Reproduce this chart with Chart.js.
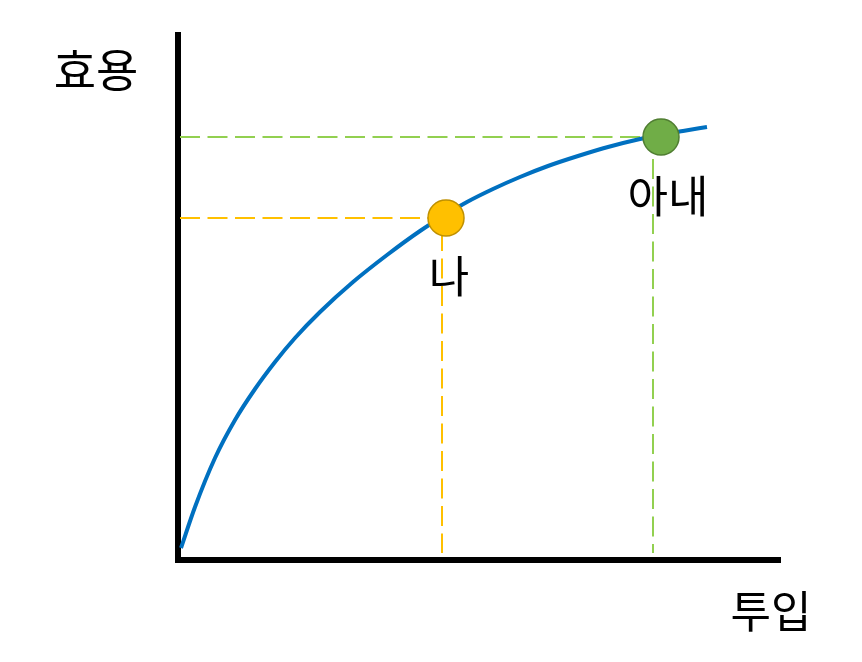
<!DOCTYPE html>
<html>
<head>
<meta charset="utf-8">
<script src="https://cdn.jsdelivr.net/npm/chart.js@4/dist/chart.umd.min.js"></script>
<style>
  html, body { margin: 0; padding: 0; background: #fff; }
  #wrap { width: 862px; height: 662px; }
</style>
</head>
<body>
<div id="wrap"><canvas id="chart" width="862" height="662"></canvas></div>
<script>
// ===== DATA (arbitrary units) =====
const curveX = [3, 17, 37, 57, 77, 97, 117, 142, 175, 209, 242, 267, 289, 315, 342, 370, 400, 430, 462, 482, 505, 529];
const curveY = [12, 53, 102, 140, 171, 198, 222, 248, 278, 305, 329, 345, 358, 371, 383, 394, 404, 413, 421, 425, 429, 433];

const pointNames = ['나', '아내'];
const pointX = [268, 483];
const pointY = [342, 423];
// where the dashed guide lines meet the axes
const guideX = [264, 475];
const guideY = [342, 423];

const xTitle = '투입';
const yTitle = '효용';
const xMax = 602;
const yMax = 525;

const pointColors = ['#FFC000', '#70AD47'];
const pointBorders = ['#BF9000', '#507E32'];
const guideColors = ['#FFC000', '#92D050'];

// ===== DATASETS =====
const curve = curveX.map((x, i) => ({ x: x, y: curveY[i] }));

const datasets = [];

// dashed guide lines (behind everything)
pointNames.forEach((name, i) => {
    datasets.push({
        label: name + ' guide',
        data: [{ x: 2, y: guideY[i] }, { x: guideX[i], y: guideY[i] }, { x: guideX[i], y: 7 }],
        showLine: true,
        borderColor: guideColors[i],
        borderWidth: 2,
        borderDash: [20, 7.5],
        pointRadius: 0,
        tension: 0,
        order: 3
    });
});

// utility curve
datasets.push({
    label: 'curve',
    data: curve,
    showLine: true,
    borderColor: '#0070C0',
    borderWidth: 4,
    pointRadius: 0,
    cubicInterpolationMode: 'monotone',
    order: 2
});

// the two people
pointNames.forEach((name, i) => {
    datasets.push({
        label: name,
        data: [{ x: pointX[i], y: pointY[i] }],
        pointRadius: 18,
        pointBackgroundColor: pointColors[i],
        pointBorderColor: pointBorders[i],
        pointBorderWidth: 1.5,
        order: 1
    });
});

// ===== TEXT LABELS =====
const textPlugin = {
    id: 'textLabels',
    afterDraw(chart) {
        const ctx = chart.ctx;
        const area = chart.chartArea;
        const xs = chart.scales.x;
        const ys = chart.scales.y;
        ctx.save();
        ctx.fillStyle = '#000';
        ctx.textAlign = 'center';
        ctx.textBaseline = 'middle';

        // axis titles
        ctx.font = '46px "Noto Sans CJK KR", "Noto Sans", sans-serif';
        ctx.fillText(yTitle, area.left - 82, area.top + 35);
        ctx.font = '44px "Noto Sans CJK KR", "Noto Sans", sans-serif';
        ctx.fillText(xTitle, area.right - 9, area.bottom + 51);

        // point names under each marker
        const offsets = [[3, 58], [7, 59]];
        pointNames.forEach((name, i) => {
            const px = xs.getPixelForValue(pointX[i]);
            const py = ys.getPixelForValue(pointY[i]);
            ctx.fillText(name, px + offsets[i][0], py + offsets[i][1]);
        });
        ctx.restore();
    }
};

new Chart(document.getElementById('chart'), {
    type: 'scatter',
    data: { datasets: datasets },
    options: {
        responsive: false,
        animation: false,
        layout: { padding: { left: 178, right: 82, top: 35, bottom: 102 } },
        plugins: {
            legend: { display: false },
            tooltip: { enabled: false }
        },
        scales: {
            x: {
                type: 'linear',
                min: 0,
                max: xMax,
                grid: { display: false, drawTicks: false },
                ticks: { display: false },
                border: { display: true, color: '#000', width: 6 }
            },
            y: {
                type: 'linear',
                min: 0,
                max: yMax,
                grid: { display: false, drawTicks: false },
                ticks: { display: false },
                border: { display: true, color: '#000', width: 6 }
            }
        }
    },
    plugins: [textPlugin]
});
</script>
</body>
</html>
